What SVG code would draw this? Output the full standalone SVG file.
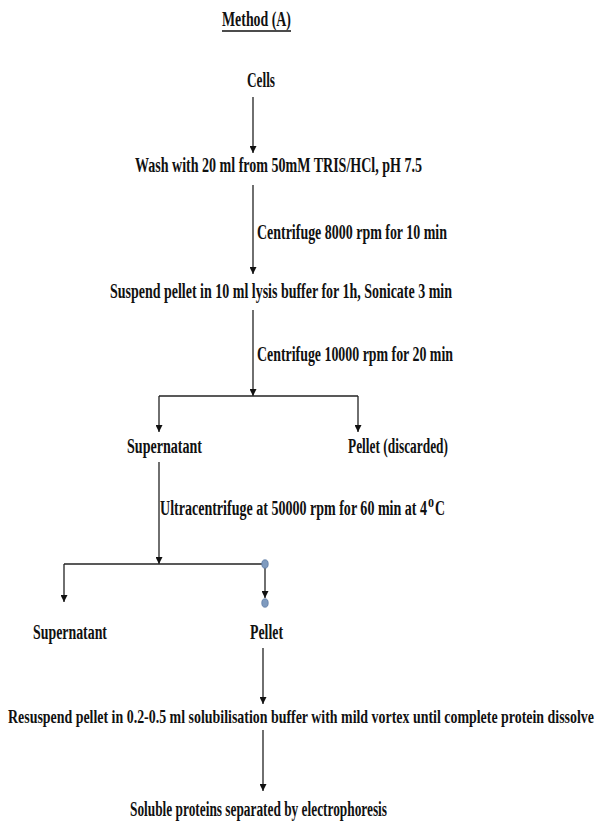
<svg xmlns="http://www.w3.org/2000/svg" width="603" height="835" viewBox="0 0 603 835">
<defs>
<style>
text{font-family:"Liberation Serif","Times New Roman",serif;font-weight:bold;font-size:20px;fill:#111}
.sup{font-size:12px}
.ln{stroke:#222;stroke-width:1.3;fill:none}
</style>
<marker id="ah" viewBox="0 0 10 10" refX="10" refY="5" markerWidth="7" markerHeight="7" markerUnits="userSpaceOnUse" orient="auto"><path d="M0,0 L10,5 L0,10 z" fill="#111"/></marker>
</defs>
<rect width="603" height="835" fill="#fff"/>
<g id="title"><text x="222" y="26" textLength="69" lengthAdjust="spacingAndGlyphs">Method (A)</text><line x1="222" y1="31" x2="291" y2="31" stroke="#111" stroke-width="1.6"/></g>
<g id="cells"><text x="247" y="87" textLength="28" lengthAdjust="spacingAndGlyphs">Cells</text></g>
<g id="wash"><text x="135" y="172" textLength="287" lengthAdjust="spacingAndGlyphs">Wash with 20 ml from 50mM TRIS/HCl, pH 7.5</text></g>
<g id="suspend"><text x="110" y="298" textLength="342" lengthAdjust="spacingAndGlyphs">Suspend pellet in 10 ml lysis buffer for 1h, Sonicate 3 min</text></g>
<g id="supernatant1"><text x="127" y="453" textLength="75" lengthAdjust="spacingAndGlyphs">Supernatant</text></g>
<g id="pellet-discarded"><text x="348" y="453" textLength="100" lengthAdjust="spacingAndGlyphs">Pellet (discarded)</text></g>
<g id="supernatant2"><text x="33" y="639" textLength="74" lengthAdjust="spacingAndGlyphs">Supernatant</text></g>
<g id="pellet"><text x="250" y="639" textLength="33" lengthAdjust="spacingAndGlyphs">Pellet</text></g>
<g id="resuspend"><text x="8" y="723" textLength="586" lengthAdjust="spacingAndGlyphs" style="font-size:19px">Resuspend pellet in 0.2-0.5 ml solubilisation  buffer with mild vortex until complete protein dissolve</text></g>
<g id="soluble"><text x="130" y="816" textLength="257" lengthAdjust="spacingAndGlyphs">Soluble proteins separated by electrophoresis</text></g>
<g id="connectors">
<line class="ln" x1="253" y1="97" x2="253" y2="153" marker-end="url(#ah)"/>
<line class="ln" x1="253" y1="185" x2="253" y2="274" marker-end="url(#ah)"/>
<text x="257" y="239" textLength="190" lengthAdjust="spacingAndGlyphs">Centrifuge 8000 rpm for 10 min</text>
<line class="ln" x1="253" y1="310" x2="253" y2="396" marker-end="url(#ah)"/>
<text x="257" y="361" textLength="196" lengthAdjust="spacingAndGlyphs">Centrifuge 10000 rpm for 20 min</text>
<polyline class="ln" points="159,396 358,396"/>
<line class="ln" x1="159" y1="396" x2="159" y2="432" marker-end="url(#ah)"/>
<line class="ln" x1="358" y1="396" x2="358" y2="432" marker-end="url(#ah)"/>
<line class="ln" x1="159" y1="462" x2="159" y2="564" marker-end="url(#ah)"/>
<text x="160" y="515" textLength="267" lengthAdjust="spacingAndGlyphs">Ultracentrifuge at 50000 rpm for 60 min at 4</text>
<text class="sup" x="428" y="507">0</text>
<text x="435" y="515" textLength="10" lengthAdjust="spacingAndGlyphs">C</text>
<polyline class="ln" points="64,564 265,564"/>
<line class="ln" x1="64" y1="564" x2="64" y2="602" marker-end="url(#ah)"/>
<line class="ln" x1="265" y1="564" x2="265" y2="598" marker-end="url(#ah)"/>
<ellipse cx="265" cy="564" rx="3.2" ry="4.2" fill="#7f9bbf" stroke="#5d7aa3" stroke-width="0.8"/>
<ellipse cx="265" cy="603" rx="3.2" ry="4.2" fill="#7f9bbf" stroke="#5d7aa3" stroke-width="0.8"/>
<line class="ln" x1="263" y1="648" x2="263" y2="704" marker-end="url(#ah)"/>
<line class="ln" x1="263" y1="730" x2="263" y2="791" marker-end="url(#ah)"/>
</g>
</svg>
